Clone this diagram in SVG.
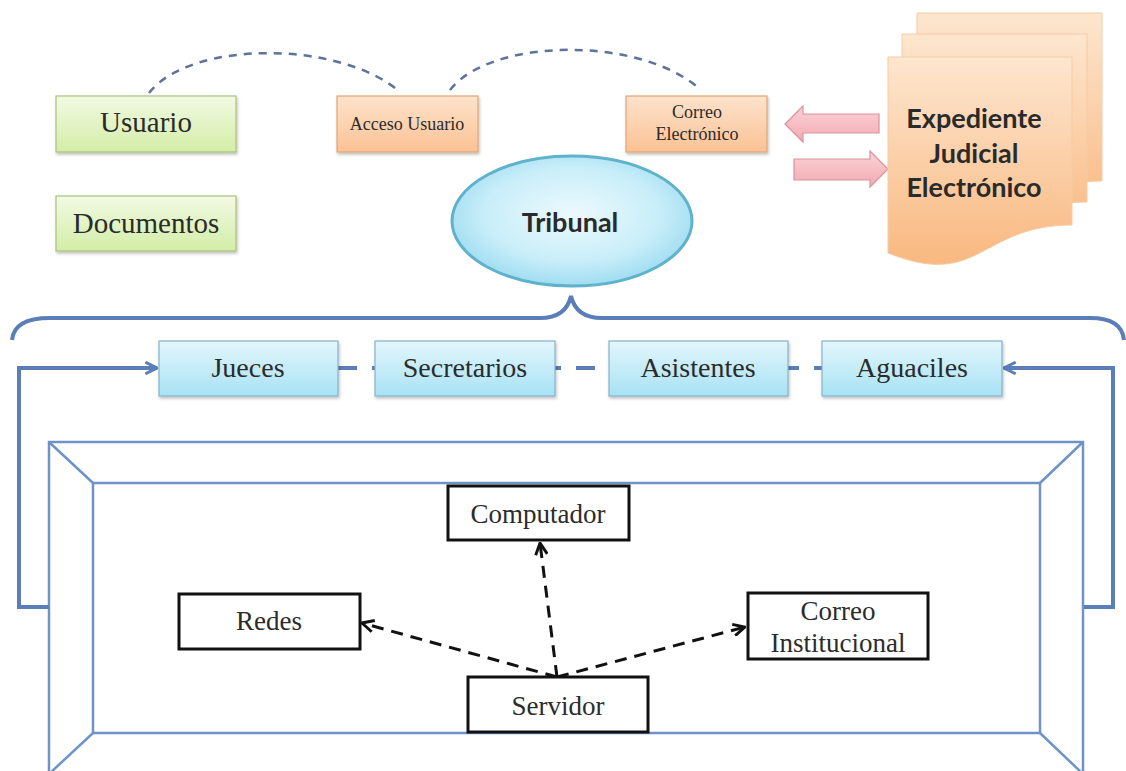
<svg xmlns="http://www.w3.org/2000/svg" width="1126" height="771" viewBox="0 0 1126 771">
<style>
.serif{font-family:"Liberation Serif","Times New Roman",serif;fill:#2b2b2b;text-anchor:middle}
.sans{font-family:Lato,"Open Sans","Liberation Sans",sans-serif;font-weight:bold;fill:#2a2a2a;text-anchor:middle}
.green{fill:url(#gGreen);stroke:#a8c27c;stroke-width:1.2}
.orange{fill:url(#gOrange);stroke:#e1a676;stroke-width:1.2}
.blue{fill:url(#gBlue);stroke:#86b3c8;stroke-width:1.2}
.plain{fill:#fff;stroke:#111;stroke-width:3}
.arc{fill:none;stroke:#5d7399;stroke-width:2.5;stroke-dasharray:8 7}
.loop{fill:none;stroke:#5b7db8;stroke-width:4}
.frame{fill:none;stroke:#6f93c8;stroke-width:2.5}
.dash{fill:none;stroke:#111;stroke-width:3;stroke-dasharray:12 8}
.pink{fill:url(#gPink);stroke:#d8939a;stroke-width:1.2}
.doc{fill:url(#gDoc);stroke:#f6cba3;stroke-width:1}
</style>
<defs>
<linearGradient id="gGreen" x1="0" y1="0" x2="0" y2="1"><stop offset="0" stop-color="#f2fae4"/><stop offset="1" stop-color="#d3eda6"/></linearGradient>
<linearGradient id="gOrange" x1="0" y1="0" x2="0" y2="1"><stop offset="0" stop-color="#fde3cc"/><stop offset="1" stop-color="#fbc294"/></linearGradient>
<linearGradient id="gBlue" x1="0" y1="0" x2="0" y2="1"><stop offset="0" stop-color="#e3f6fc"/><stop offset="1" stop-color="#a7e2f4"/></linearGradient>
<linearGradient id="gPink" x1="0" y1="0" x2="0" y2="1"><stop offset="0" stop-color="#fbd3d8"/><stop offset="1" stop-color="#f3a9b2"/></linearGradient>
<linearGradient id="gDoc" x1="0" y1="0" x2="0" y2="1"><stop offset="0" stop-color="#fde6cf"/><stop offset="1" stop-color="#f9b880"/></linearGradient>
<radialGradient id="gEll" cx="0.5" cy="0.45" r="0.6"><stop offset="0" stop-color="#ecf9fd"/><stop offset="0.6" stop-color="#c9eef9"/><stop offset="1" stop-color="#94d8ef"/></radialGradient>
<filter id="sh" x="-10%" y="-10%" width="130%" height="140%"><feDropShadow dx="1" dy="2" stdDeviation="1.5" flood-color="#000" flood-opacity="0.25"/></filter>
<marker id="openBlue" viewBox="0 0 12 12" refX="11" refY="6" markerWidth="14" markerHeight="14" markerUnits="userSpaceOnUse" orient="auto"><path d="M1,1 L11,6 L1,11" fill="none" stroke="#5b7db8" stroke-width="2.5"/></marker>
<marker id="openBlack" viewBox="0 0 12 12" refX="11" refY="6" markerWidth="14" markerHeight="14" markerUnits="userSpaceOnUse" orient="auto"><path d="M1,1 L11,6 L1,11" fill="none" stroke="#111" stroke-width="2.5"/></marker>
</defs>

<g id="frame">
<rect class="frame" x="49" y="442" width="1034" height="334"/>
<rect class="frame" x="93" y="483" width="947" height="250"/>
<path class="frame" d="M49,442 L93,483 M1083,442 L1040,483 M93,733 L49,774 M1040,733 L1083,774"/>
</g>

<g id="connectors">
<path class="arc" d="M149,93 C190,40 340,40 400,92"/>
<path class="arc" d="M450,90 C490,38 640,35 701,90"/>
<path class="loop" d="M12,340 Q14,318 50,318 H540 Q566,318 571,296 Q576,318 602,318 H1090 Q1122,318 1124,340"/>
<path class="loop" d="M49,607 H19 V368 H157" marker-end="url(#openBlue)"/>
<path class="loop" d="M1084,607 H1113 V368 H1004" marker-end="url(#openBlue)"/>
<line x1="338" y1="368" x2="822" y2="368" stroke="#5b7db8" stroke-width="4" stroke-dasharray="19 15"/>
<path class="dash" d="M557,677 L540,543" marker-end="url(#openBlack)"/>
<path class="dash" d="M557,677 L362,623" marker-end="url(#openBlack)"/>
<path class="dash" d="M557,677 L745,627" marker-end="url(#openBlack)"/>
<polygon class="pink" points="785,124 803,106 803,114 879,114 879,133 803,133 803,142"/>
<polygon class="pink" points="794,159 870,159 870,151 888,169 870,187 870,180 794,180"/>
</g>

<g id="usuario" filter="url(#sh)"><rect class="green" x="56" y="96" width="180" height="56"/></g>
<text class="serif" x="146" y="132" font-size="29">Usuario</text>
<g id="documentos" filter="url(#sh)"><rect class="green" x="56" y="196" width="180" height="55"/></g>
<text class="serif" x="146" y="233" font-size="29">Documentos</text>

<g id="acceso-usuario" filter="url(#sh)"><rect class="orange" x="337" y="96" width="141" height="56"/></g>
<text class="serif" x="407" y="130" font-size="18">Acceso Usuario</text>

<g id="correo-electronico" filter="url(#sh)"><rect class="orange" x="626" y="96" width="141" height="56"/></g>
<text class="serif" x="697" y="118" font-size="18">Correo</text>
<text class="serif" x="697" y="140" font-size="18">Electrónico</text>

<g id="expediente">
<path class="doc" d="M917,13 H1102 V181 C1010,181 1010,246 917,209 Z"/>
<path class="doc" d="M902,34 H1087 V202 C995,202 995,267 902,230 Z"/>
<path class="doc" d="M888,57 H1072 V225 C980,225 980,290 888,253 Z"/>
<text class="sans" x="974" y="128" font-size="27">Expediente</text>
<text class="sans" x="974" y="163" font-size="27">Judicial</text>
<text class="sans" x="974" y="197" font-size="27">Electrónico</text>
</g>

<g id="tribunal">
<ellipse cx="572" cy="221" rx="120" ry="65" fill="url(#gEll)" stroke="#5fb2cb" stroke-width="3"/>
<text class="sans" x="570" y="232" font-size="27" fill="#1f2a33">Tribunal</text>
</g>

<g id="jueces" filter="url(#sh)"><rect class="blue" x="159" y="341" width="179" height="55"/></g>
<text class="serif" x="248" y="377" font-size="28">Jueces</text>
<g id="secretarios" filter="url(#sh)"><rect class="blue" x="375" y="341" width="180" height="55"/></g>
<text class="serif" x="465" y="377" font-size="28">Secretarios</text>
<g id="asistentes" filter="url(#sh)"><rect class="blue" x="609" y="341" width="179" height="55"/></g>
<text class="serif" x="698" y="377" font-size="28">Asistentes</text>
<g id="aguaciles" filter="url(#sh)"><rect class="blue" x="822" y="341" width="180" height="55"/></g>
<text class="serif" x="912" y="377" font-size="28">Aguaciles</text>

<g id="computador"><rect class="plain" x="448" y="486" width="181" height="54"/>
<text class="serif" x="538" y="523" font-size="27">Computador</text></g>
<g id="redes"><rect class="plain" x="179" y="594" width="181" height="55"/>
<text class="serif" x="269" y="630" font-size="27">Redes</text></g>
<g id="correo-institucional"><rect class="plain" x="748" y="593" width="180" height="66"/>
<text class="serif" x="838" y="620" font-size="27">Correo</text>
<text class="serif" x="838" y="652" font-size="27">Institucional</text></g>
<g id="servidor"><rect class="plain" x="468" y="677" width="180" height="55"/>
<text class="serif" x="558" y="715" font-size="27">Servidor</text></g>
</svg>
